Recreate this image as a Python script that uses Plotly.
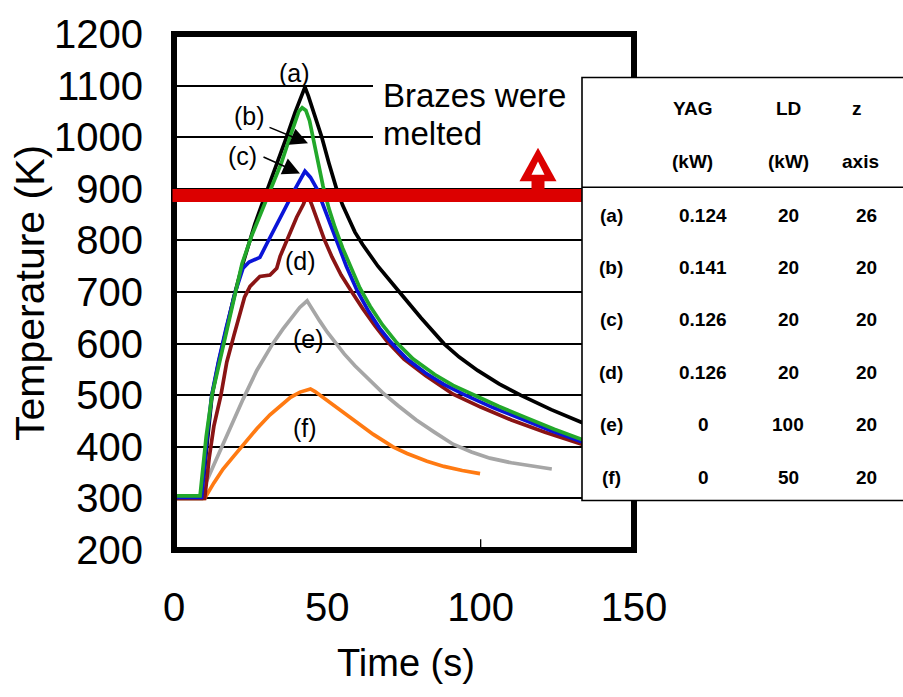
import plotly.graph_objects as go

# ---- measured thermal histories (time in s, temperature in K) ----
t_a = [0, 9, 10.5, 12.4, 14.5, 16.5, 19.5, 22.2, 24.5, 26.4, 29, 31, 34, 36.7, 39.5, 42.7,
       43.8, 45.5, 47, 48.2, 50.5, 53, 55, 57, 59, 61.5, 64, 66.5, 73.5, 80.5, 88, 93, 99, 106,
       113, 123, 133, 141, 150]
T_a = [300, 300, 390, 500, 562, 615, 690, 750, 795, 832, 875, 907, 955, 1000, 1048, 1097,
       1080, 1050, 1022, 1000, 950, 900, 868, 840, 816, 792, 770, 750, 700, 650, 600, 574, 548,
       522, 500, 472, 447, 430, 414]

t_b = [0, 8.5, 10.5, 12.4, 14.5, 17, 19.5, 22.2, 25.4, 28.5, 31.9, 35, 37.8, 39.5, 40.7, 41.8,
       43, 44.2, 45.5, 47, 48.6, 50.5, 52.5, 55, 57.5, 60.6, 64, 68, 72.6, 78, 85, 91, 98.7, 106,
       115, 124, 133, 142, 150]
T_b = [305, 305, 420, 500, 555, 620, 690, 755, 810, 855, 903, 950, 1000, 1032, 1050, 1057,
       1052, 1032, 995, 950, 905, 862, 825, 785, 750, 708, 672, 636, 602, 570, 540, 519, 498, 478,
       456, 434, 414, 398, 385]

t_c = [0, 9, 10.8, 12.3, 14.5, 17, 20, 22.5, 24.5, 26, 28, 30.3, 33.6, 36.8, 39.5, 42.7,
       44.5, 46.6, 49.5, 53, 56.2, 59.7, 63.5, 67, 70.8, 76, 82, 88, 95, 104, 113, 123, 133,
       142, 150]
T_c = [302, 302, 420, 500, 565, 630, 700, 746, 758, 762, 767, 794, 832, 870, 900, 934,
       922, 900, 855, 800, 750, 703, 662, 630, 602, 570, 543, 521, 500, 476, 455, 431, 410,
       394, 381]

t_d = [0, 10, 11.5, 13, 15.3, 17.2, 19.5, 21.5, 23, 24.8, 28, 31.3, 33.5, 34.6, 36.7, 40, 42.2,
       43.5, 45, 47, 49, 51.5, 54.5, 58, 61.5, 65.5, 69.4, 75, 82, 91, 100, 110, 121, 133, 142,
       150]
T_d = [300, 300, 380, 440, 500, 564, 615, 660, 690, 711, 730, 733, 746, 769, 800, 845, 870,
       890, 868, 835, 802, 768, 733, 700, 668, 635, 605, 570, 538, 502, 477, 452, 428, 405, 390,
       378]

t_e = [0, 8.5, 10, 12, 14, 16, 19, 22.5, 27, 32, 35.5, 38.5, 41, 43.4, 45, 47.5, 50, 52.5,
       55.5, 59, 63, 68, 73, 79, 85, 91, 97, 103, 110, 117, 123.2]
T_e = [305, 305, 325, 352, 378, 402, 445, 492, 548, 598, 628, 652, 670, 683, 667, 644, 622,
       602, 580, 557, 534, 505, 480, 452, 428, 405, 390, 378, 369, 362, 357]

t_f = [0, 10, 13, 16, 19.5, 22.6, 27, 31.3, 35, 38, 41.1, 43.3, 44.5, 46, 48.5, 51.9, 56,
       60.6, 65, 71.4, 76, 82.5, 88, 94, 99.8]
T_f = [300, 300, 330, 357, 382, 404, 435, 462, 482, 496, 506, 511, 512, 507, 496, 481, 462,
       443, 424, 400, 387, 372, 362, 354, 348]

series_labels = ["(a)", "(b)", "(c)", "(d)", "(e)", "(f)"]
series_colors = ["#000000", "#22a82a", "#0a14d8", "#8a1414", "#a6a6a6", "#ff7a12"]

# brazing filler melting level (K)
braze_melt_K = 887

# ---- process-condition table ----
table_head_1 = ["YAG", "LD", "z"]
table_head_2 = ["(kW)", "(kW)", "axis"]
yag_kw = ["0.124", "0.141", "0.126", "0.126", "0", "0"]
ld_kw = ["20", "20", "20", "20", "100", "50"]
z_axis = ["26", "20", "20", "20", "20", "20"]

x_ticks = [0, 50, 100, 150]

# ---- layout geometry (pixels of the 903 x 697 page) ----
FIG_W, FIG_H = 903, 697
L, R, TOP, BOT = 174, 634, 28, 550
W, H = R - L, BOT - TOP
FONT = "Liberation Sans, Arial, Helvetica, sans-serif"


def px(x, y):
    """page pixel -> paper coordinates"""
    return (x - L) / W, (BOT - y) / H


fig = go.Figure()

draw_order = [0, 4, 5, 3, 2, 1]
curves = [(t_a, T_a), (t_b, T_b), (t_c, T_c), (t_d, T_d), (t_e, T_e), (t_f, T_f)]
for i in draw_order:
    t, T = curves[i]
    fig.add_trace(go.Scatter(x=t, y=T, mode="lines", name=series_labels[i],
                             line=dict(color=series_colors[i], width=3.7),
                             hoverinfo="skip", showlegend=False))

shapes = []
# white panel behind the "Brazes were melted" note
x0, y0 = px(373, 62)
x1, y1 = px(583, 160)
shapes.append(dict(type="rect", xref="paper", yref="paper", x0=x0, y0=y1, x1=x1, y1=y0,
                   fillcolor="white", line=dict(width=0), layer="above"))
# heavy frame around the plot area
shapes.append(dict(type="rect", xref="paper", yref="paper", x0=0, y0=0, x1=1, y1=1,
                   line=dict(color="black", width=6), layer="above"))
# single inside tick at t = 100 s
shapes.append(dict(type="line", xref="x", yref="paper", x0=100, x1=100, y0=0, y1=11 / H,
                   line=dict(color="black", width=1.3), layer="above"))
# melting-level bar
shapes.append(dict(type="line", xref="paper", yref="y", x0=px(172.5, 0)[0], x1=px(583, 0)[0],
                   y0=braze_melt_K, y1=braze_melt_K,
                   line=dict(color="#dc0000", width=13), layer="above"))


def poly(points, color):
    segs = []
    for k, (xx, yy) in enumerate(points):
        a, b = px(xx, yy)
        segs.append(("M" if k == 0 else "L") + f"{a:.5f},{b:.5f}")
    return dict(type="path", xref="paper", yref="paper", path=" ".join(segs) + " Z",
                fillcolor=color, line=dict(width=0), layer="above")


# hollow upward arrow on the bar
shapes.append(poly([(538, 143), (556.5, 177), (519.5, 177)], "#dc0000"))
shapes.append(poly([(531.5, 176), (544.5, 176), (544.5, 188), (531.5, 188)], "#dc0000"))
shapes.append(poly([(538, 157), (544.5, 170.5), (531.5, 170.5)], "white"))

# table panel
tx0, ty0 = px(582, 72)
tx1, ty1 = px(915, 500)
shapes.append(dict(type="rect", xref="paper", yref="paper", x0=tx0, y0=ty1, x1=tx1, y1=ty0,
                   fillcolor="white", line=dict(color="black", width=1.6), layer="above"))
hx0, hy = px(582, 183)
hx1, _ = px(915, 183)
shapes.append(dict(type="line", xref="paper", yref="paper", x0=hx0, x1=hx1, y0=hy, y1=hy,
                   line=dict(color="black", width=1.6), layer="above"))

annotations = []


def text_at(x, y, s, size, bold=False, xanchor="center", angle=0):
    a, b = px(x, y)
    annotations.append(dict(xref="paper", yref="paper", x=a, y=b, text=f"<b>{s}</b>" if bold else s,
                            showarrow=False, xanchor=xanchor, yanchor="middle", textangle=angle,
                            font=dict(family=FONT, size=size, color="black")))


# curve labels
label_pos = [(294, 67), (249, 111), (242, 151), (300, 258), (308, 337), (305, 427)]
for lab, (lx, ly) in zip(series_labels, label_pos):
    text_at(lx, ly, lab, 25)

# pointer arrows from (b) and (c)
for (hx, hy_), (tx, ty) in [((308, 138.5), (268, 122)), ((300, 169), (262, 152))]:
    a, b = px(hx, hy_)
    annotations.append(dict(xref="paper", yref="paper", x=a, y=b, text="", showarrow=True,
                            ax=tx - hx, ay=ty - hy_, arrowhead=2, arrowsize=2.3,
                            arrowwidth=1.5, arrowcolor="black"))

# note
text_at(381, 90, "Brazes were", 33, xanchor="left")
text_at(381, 129, "melted", 33, xanchor="left")

# table text
head_x = [692, 788, 857]
for hx_, h1, h2 in zip(head_x, table_head_1, table_head_2):
    text_at(hx_, 103, h1, 19, bold=True)
    text_at(hx_ + (3 if h2 == "axis" else 0), 157, h2, 19, bold=True)
row_y = [211.5, 264.5, 317, 370, 423, 476.5]
for ry, lab, yv, lv, zv in zip(row_y, series_labels, yag_kw, ld_kw, z_axis):
    text_at(611, ry, lab, 19, bold=True)
    text_at(703, ry, yv, 19, bold=True)
    text_at(788, ry, lv, 19, bold=True)
    text_at(866, ry, zv, 19, bold=True)

# axis titles
text_at(406, 664, "Time (s)", 38)
text_at(30, 290, "Temperature (K)", 41, angle=-90)

fig.update_layout(
    width=FIG_W, height=FIG_H,
    margin=dict(l=L, r=FIG_W - R, t=TOP, b=FIG_H - BOT, pad=0),
    paper_bgcolor="white", plot_bgcolor="white",
    font=dict(family=FONT, color="black"),
    shapes=shapes, annotations=annotations, showlegend=False,
    xaxis=dict(range=[0, 150], tickvals=x_ticks, showgrid=False, zeroline=False,
               showline=False, ticks="", ticklabelstandoff=30,
               tickfont=dict(family=FONT, size=40, color="black")),
    yaxis=dict(range=[200, 1200], dtick=100, tick0=200, showgrid=True, gridcolor="black",
               gridwidth=1.5, zeroline=False, showline=False, ticks="", ticklabelstandoff=30,
               tickfont=dict(family=FONT, size=40, color="black")),
)

fig.write_html("out.html")
